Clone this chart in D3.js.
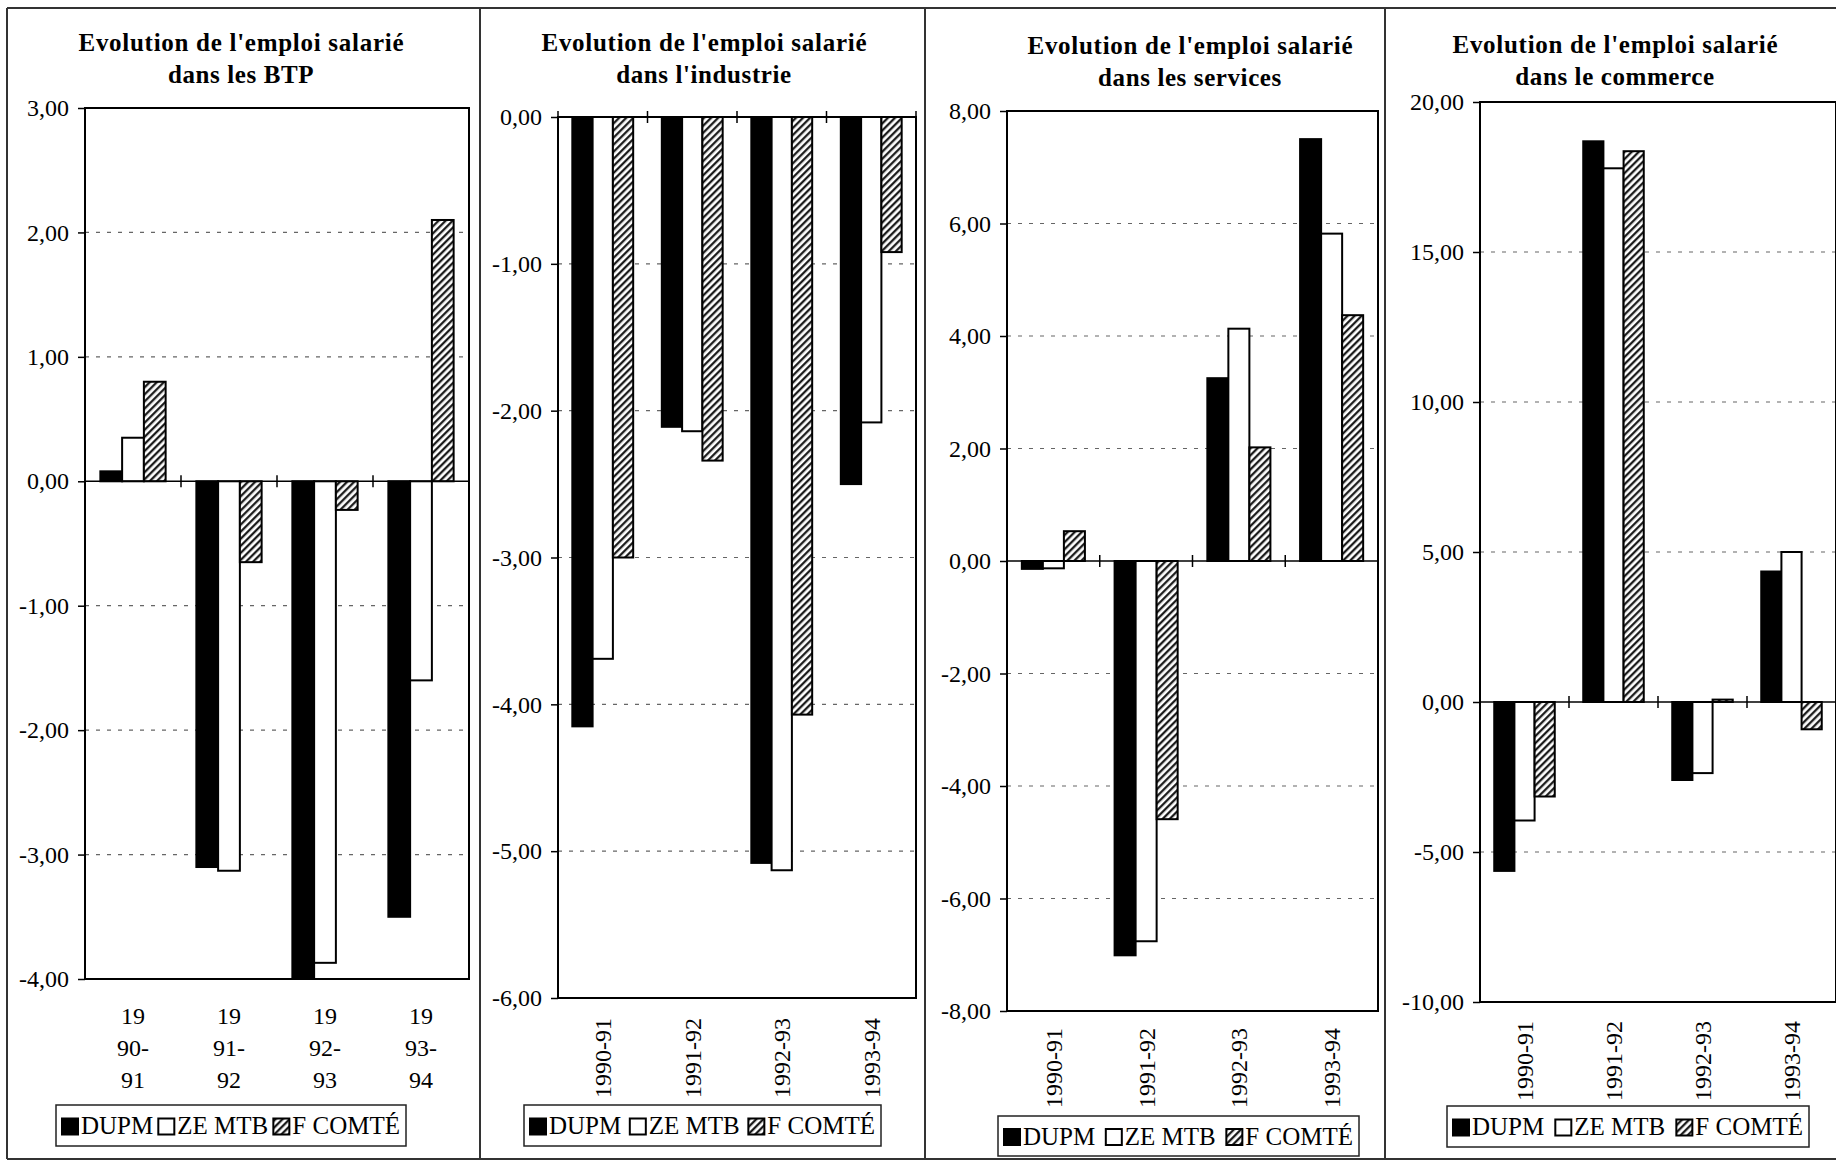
<!DOCTYPE html>
<html>
<head>
<meta charset="utf-8">
<script src="https://cdn.jsdelivr.net/npm/d3@7"></script>
<style>
  html, body { margin: 0; padding: 0; background: #fff; }
  svg { display: block; }
  text { font-family: "Liberation Serif", "Times New Roman", serif; fill: #000; }
</style>
</head>
<body>
<svg id="chart" width="1836" height="1161"></svg>
<script>
// ---------- DATA ----------
const categories = ["1990-91", "1991-92", "1992-93", "1993-94"];
const seriesNames = ["DUPM", "ZE MTB", "F COMTÉ"];

const btpDUPM = [0.08, -3.10, -4.00, -3.50];
const btpZE   = [0.35, -3.13, -3.87, -1.60];
const btpFC   = [0.80, -0.65, -0.23, 2.10];
const btpTicks = [-4, -3, -2, -1, 0, 1, 2, 3];

const indDUPM = [-4.15, -2.11, -5.08, -2.50];
const indZE   = [-3.69, -2.14, -5.13, -2.08];
const indFC   = [-3.00, -2.34, -4.07, -0.92];
const indTicks = [-6, -5, -4, -3, -2, -1, 0];

const serDUPM = [-0.14, -7.01, 3.25, 7.50];
const serZE   = [-0.13, -6.76, 4.13, 5.82];
const serFC   = [0.53, -4.59, 2.02, 4.37];
const serTicks = [-8, -6, -4, -2, 0, 2, 4, 6, 8];

const comDUPM = [-5.63, 18.69, -2.60, 4.35];
const comZE   = [-3.95, 17.79, -2.37, 5.00];
const comFC   = [-3.15, 18.36, 0.08, -0.91];
const comTicks = [-10, -5, 0, 5, 10, 15, 20];

const titlesLine1 = ["Evolution de l'emploi salarié", "Evolution de l'emploi salarié", "Evolution de l'emploi salarié", "Evolution de l'emploi salarié"];
const titlesLine2 = ["dans les BTP", "dans l'industrie", "dans les services", "dans le commerce"];

// ---------- LAYOUT ----------
const layouts = [
  { left: 85,   right: 469,  top: 108, bottom: 979,  titleX: 241,  titleY: 51, wrapX: true,  labTop: 1024,
    legend: { x: 56, y: 1105, w: 350, h: 41 } },
  { left: 558,  right: 916,  top: 117, bottom: 998,  titleX: 704,  titleY: 51, wrapX: false, labTop: 1018,
    legend: { x: 524, y: 1105, w: 357, h: 41 } },
  { left: 1007, right: 1378, top: 111, bottom: 1011, titleX: 1190, titleY: 54, wrapX: false, labTop: 1028,
    legend: { x: 998, y: 1116, w: 361, h: 40 } },
  { left: 1480, right: 1836, top: 102, bottom: 1002, titleX: 1615, titleY: 53, wrapX: false, labTop: 1021,
    legend: { x: 1447, y: 1106, w: 362, h: 41 } }
];

const panelsData = [
  { ticks: btpTicks, series: [btpDUPM, btpZE, btpFC] },
  { ticks: indTicks, series: [indDUPM, indZE, indFC] },
  { ticks: serTicks, series: [serDUPM, serZE, serFC] },
  { ticks: comTicks, series: [comDUPM, comZE, comFC] }
];

const svg = d3.select("#chart");
const defs = svg.append("defs");
const pat = defs.append("pattern")
  .attr("id", "hatch").attr("patternUnits", "userSpaceOnUse")
  .attr("width", 5).attr("height", 5)
  .attr("patternTransform", "rotate(45)");
pat.append("rect").attr("width", 5).attr("height", 5).attr("fill", "#fff");
pat.append("line").attr("x1", 1.2).attr("y1", 0).attr("x2", 1.2).attr("y2", 5)
  .attr("stroke", "#111").attr("stroke-width", 2.2);

const fills = ["#000", "#fff", "url(#hatch)"];

const locale = d3.formatLocale({ decimal: ",", thousands: " ", grouping: [3], currency: ["", "€"], minus: "-" });
const fmt = locale.format(".2f");

// panel frames
const frame = svg.append("g").attr("stroke", "#333").attr("stroke-width", 2).attr("fill", "none");
frame.append("line").attr("x1", 7).attr("x2", 1836).attr("y1", 8).attr("y2", 8);
frame.append("line").attr("x1", 7).attr("x2", 1836).attr("y1", 1159).attr("y2", 1159);
[7, 480, 925, 1385].forEach(x => frame.append("line").attr("x1", x).attr("x2", x).attr("y1", 8).attr("y2", 1159));

panelsData.forEach((pd, pi) => {
  const L = layouts[pi];
  const g = svg.append("g");
  const ticks = pd.ticks;
  const y = d3.scaleLinear().domain([d3.min(ticks), d3.max(ticks)]).range([L.bottom, L.top]);
  const x0 = d3.scaleBand().domain(categories).range([L.left, L.right]).paddingInner(0.32).paddingOuter(0.16);
  const x1 = d3.scaleBand().domain(seriesNames).range([0, x0.bandwidth()]);

  // title
  const t = g.append("text").attr("x", L.titleX).attr("y", L.titleY)
    .attr("text-anchor", "middle").attr("font-weight", "bold").attr("font-size", 25);
  t.text(titlesLine1[pi]).attr("textLength", 325).attr("lengthAdjust", "spacing");
  g.append("text").attr("x", L.titleX).attr("y", L.titleY + 32)
    .attr("text-anchor", "middle").attr("font-weight", "bold").attr("font-size", 25)
    .attr("letter-spacing", 0.6)
    .text(titlesLine2[pi]);

  // gridlines (dashed)
  g.append("g").selectAll("line")
    .data(ticks.filter(v => v !== 0 && v !== d3.min(ticks) && v !== d3.max(ticks)))
    .join("line")
    .attr("x1", L.left).attr("x2", L.right)
    .attr("y1", d => y(d)).attr("y2", d => y(d))
    .attr("stroke", "#666").attr("stroke-width", 1.2).attr("stroke-dasharray", "4,7");

  // bars
  const clipId = "clip" + pi;
  defs.append("clipPath").attr("id", clipId).append("rect")
    .attr("x", L.left).attr("y", L.top).attr("width", L.right - L.left).attr("height", L.bottom - L.top);
  const barData = [];
  categories.forEach((c, ci) => seriesNames.forEach((s, si) => barData.push({ c, s, si, v: pd.series[si][ci] })));
  g.append("g").attr("clip-path", `url(#${clipId})`).selectAll("rect")
    .data(barData).join("rect")
    .attr("x", d => x0(d.c) + x1(d.s))
    .attr("width", x1.bandwidth())
    .attr("y", d => Math.min(y(d.v), y(0)))
    .attr("height", d => Math.abs(y(d.v) - y(0)))
    .attr("fill", d => fills[d.si])
    .attr("stroke", "#000").attr("stroke-width", 2);

  // zero line with category tick marks
  g.append("line").attr("x1", L.left).attr("x2", L.right).attr("y1", y(0)).attr("y2", y(0))
    .attr("stroke", "#000").attr("stroke-width", 1.5);
  const bounds = categories.map(c => x0(c) - x0.step() * x0.paddingInner() / 2).concat([L.right]);
  g.append("g").selectAll("line").data(bounds).join("line")
    .attr("x1", d => d).attr("x2", d => d)
    .attr("y1", y(0) - 6).attr("y2", y(0) + 6)
    .attr("stroke", "#000").attr("stroke-width", 1.5);

  // plot frame
  g.append("rect").attr("x", L.left).attr("y", L.top)
    .attr("width", L.right - L.left).attr("height", L.bottom - L.top)
    .attr("fill", "none").attr("stroke", "#000").attr("stroke-width", 2);

  // y axis
  const ax = g.append("g").attr("transform", `translate(${L.left},0)`)
    .call(d3.axisLeft(y).tickValues(ticks).tickFormat(fmt).tickSize(7).tickSizeOuter(0).tickPadding(9));
  ax.select(".domain").remove();
  ax.selectAll(".tick line").attr("stroke", "#000").attr("stroke-width", 1.5);
  ax.selectAll(".tick text").attr("font-size", 24).attr("font-family", "Liberation Serif, serif").attr("fill", "#000");

  // x labels
  categories.forEach(c => {
    const cx = x0(c) + x0.bandwidth() / 2;
    if (L.wrapX) {
      const parts = ["19", c.slice(2, 5), c.slice(5)];
      parts.forEach((p, i) => {
        g.append("text").attr("x", cx).attr("y", L.labTop + i * 32)
          .attr("text-anchor", "middle").attr("font-size", 24).text(p);
      });
    } else {
      g.append("text")
        .attr("transform", `translate(${cx},${L.labTop}) rotate(-90)`)
        .attr("text-anchor", "end").attr("dy", "0.35em").attr("font-size", 24)
        .text(c);
    }
  });

  // legend
  const lg = L.legend;
  const legG = g.append("g");
  legG.append("rect").attr("x", lg.x).attr("y", lg.y).attr("width", lg.w).attr("height", lg.h)
    .attr("fill", "#fff").attr("stroke", "#222").attr("stroke-width", 1.5);
  const sw = 16, gapSw = 3;
  const items = seriesNames.map((s, si) => {
    const txt = legG.append("text").attr("font-size", 25).attr("y", lg.y + lg.h / 2 + 8.5).text(s);
    return { s, si, txt, w: txt.node().getComputedTextLength() };
  });
  const contentW = d3.sum(items, d => d.w + sw + gapSw);
  const pad = 6;
  const between = (lg.w - 2 * pad - contentW) / (items.length - 1);
  let cxl = lg.x + pad;
  items.forEach(it => {
    legG.append("rect").attr("x", cxl).attr("y", lg.y + lg.h / 2 - sw / 2 + 1)
      .attr("width", sw).attr("height", sw)
      .attr("fill", fills[it.si]).attr("stroke", "#000").attr("stroke-width", 2);
    it.txt.attr("x", cxl + sw + gapSw);
    cxl += sw + gapSw + it.w + between;
  });
});
</script>
</body>
</html>
